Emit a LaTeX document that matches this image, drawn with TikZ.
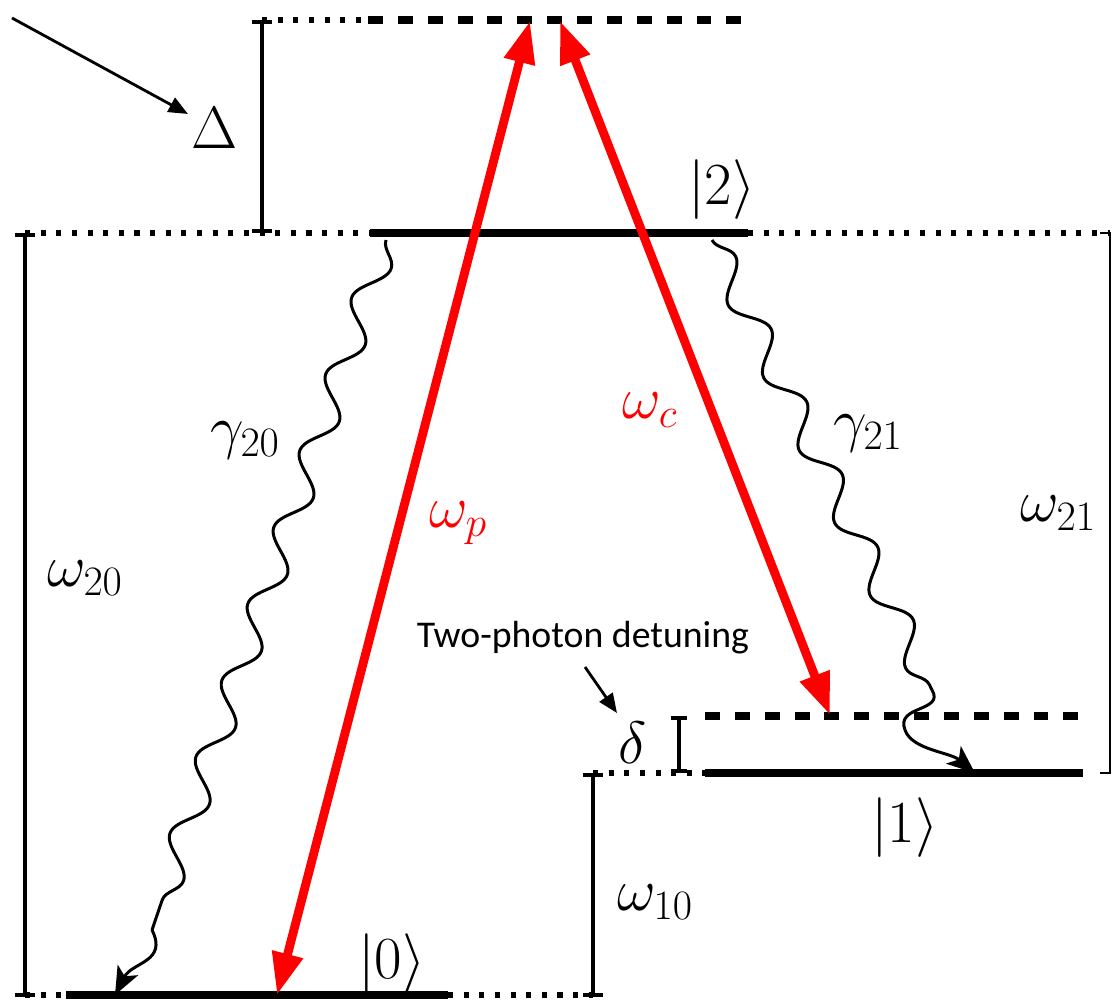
\RequirePackage{fix-cm}
\documentclass[tikz,border=0pt]{standalone}
\usepackage{fontspec}
\setmainfont{Carlito}
\usetikzlibrary{arrows.meta,decorations.pathmorphing}
\begin{document}
\begin{tikzpicture}[x=0.02cm,y=-0.02cm,
 levelline/.style={line width=4.2pt},
 dotline/.style={line width=2.9pt, dash pattern=on 2.9pt off 6pt},
 dashline/.style={line width=4pt, dash pattern=on 8.5pt off 8.5pt},
 barline/.style={line width=2.3pt, {Bar[width=11pt]}-{Bar[width=11pt]}},
 laser/.style={red, line width=5pt, {Triangle[length=24pt,width=17pt]}-{Triangle[length=24pt,width=17pt]}},
 wave/.style={line width=1.7pt, decorate, decoration={snake, amplitude=8pt, segment length=46pt}},
 tipline/.style={line width=1.7pt, -{Stealth[length=16pt,width=13pt,inset=4pt]}},
 lab/.style={font=\fontsize{34}{40}\selectfont, inner sep=0pt},
 txt/.style={font=\fontsize{21.5}{25}\selectfont, inner sep=0pt},
]
\useasboundingbox (0,0) rectangle (1115,1000);
% coordinates
\coordinate (dTop) at (262,20);
\coordinate (dBot) at (262,233);
\coordinate (vL) at (368,20);
\coordinate (vR) at (750,20);
\coordinate (tL) at (25,233);
\coordinate (l2L) at (370,233);
\coordinate (l2R) at (748,233);
\coordinate (tR) at (1110,233);
\coordinate (vdL) at (705,716);
\coordinate (vdR) at (1085,716);
\coordinate (b1) at (593,773);
\coordinate (l1L) at (705,773);
\coordinate (l1R) at (1083,773);
\coordinate (bR) at (1110,773);
\coordinate (b0) at (25,995);
\coordinate (l0L) at (66,995);
\coordinate (l0R) at (448,995);
\coordinate (b10) at (593,995);
% dotted guides
\draw[dotline] (dTop) -- (vL);
\draw[dotline] (tL) -- (l2L);
\draw[dotline] (l2R) -- (tR);
\draw[dotline] (b1) -- (l1L);
\draw[dotline] (b0) -- (l0L);
\draw[dotline] (l0R) -- (b10);
% dashed virtual levels
\draw[dashline] (vL) -- (vR);
\draw[dashline] (vdL) -- (vdR);
% real levels
\draw[levelline] (l2L) -- (l2R);
\draw[levelline] (l1L) -- (l1R);
\draw[levelline] (l0L) -- (l0R);
% bars
\draw[barline] (dTop) -- (dBot);
\draw[barline] (25,233) -- (25,997);
\draw[barline] (593,773) -- (593,997);
\draw[line width=2.3pt, {Bar[width=9pt]}-{Bar[width=9pt]}] (679,716) -- (679,773);
\draw[line width=1.5pt] (1100,233) -- (1110,233) -- (1110,773) -- (1100,773);
% labels
\node[lab] (Dl) at (215,128) {$\Delta$};
\node[lab] (k2) at (722,190) {$|2\rangle$};
\node[lab] (k1) at (905,828) {$|1\rangle$};
\node[lab] (k0) at (392,964) {$|0\rangle$};
\node[lab] (w20) at (85,578) {$\omega_{20}$};
\node[lab] (w21) at (1058,513) {$\omega_{21}$};
\node[lab] (w10) at (655,902) {$\omega_{10}$};
\node[lab] (g20) at (245,440) {$\gamma_{20}$};
\node[lab] (g21) at (868,433) {$\gamma_{21}$};
\node[lab, text=red] (wp) at (458,523) {$\omega_p$};
\node[lab, text=red] (wc) at (650,410) {$\omega_c$};
\node[lab] (dl) at (633,743) {$\delta$};
\node[txt] (tp) at (583,638) {Two-photon detuning};
% pointer arrows
\coordinate (ps) at (12,18);
\coordinate (pe) at (188,114);
\draw[line width=1.6pt, -{Triangle[length=11pt,width=9pt]}] (ps) -- (pe);
\coordinate (qs) at (585,667);
\coordinate (qe) at (617,713);
\draw[line width=1.6pt, -{Triangle[length=11pt,width=9pt]}] (qs) -- (qe);
% lasers
\coordinate (pB) at (277,995);
\coordinate (pT) at (530,21);
\coordinate (cT) at (560,21);
\coordinate (cB) at (830,715);
\draw[laser] (pB) -- (pT);
\draw[laser] (cT) -- (cB);
% decay waves
\coordinate (a0) at (386,240);
\coordinate (a1) at (152,930);
\coordinate (a2) at (115,995);
\draw[wave] (a0) -- (a1);
\draw[tipline] (a1) .. controls (168,962) and (132,962) .. (a2);
\coordinate (c0) at (712,240);
\coordinate (c1) at (932,690);
\coordinate (c2) at (905,730);
\coordinate (c3) at (975,773);
\draw[wave] (c0) -- (c1);
\draw[line width=1.7pt] (c1) .. controls (945,712) and (895,705) .. (c2);
\draw[tipline] (c2) .. controls (912,750) and (950,752) .. (c3);
\end{tikzpicture}
\end{document}
